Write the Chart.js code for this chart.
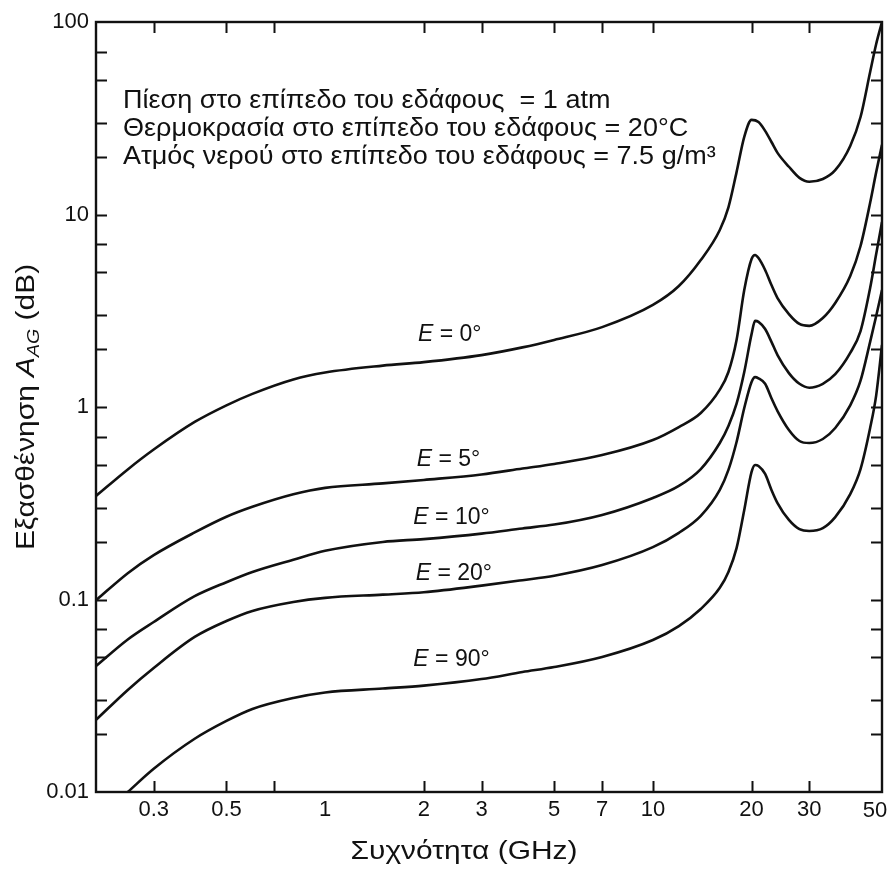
<!DOCTYPE html>
<html><head><meta charset="utf-8">
<script src="https://cdn.jsdelivr.net/npm/chart.js@4/dist/chart.umd.min.js"></script>
<style>html,body{margin:0;padding:0;background:#fff}</style>
</head><body>
<canvas id="c" width="890" height="869"></canvas>
<script>
// ---- data (frequency in GHz, attenuation in dB) ----
const freqE0 = [0.2, 0.25, 0.3, 0.4, 0.5, 0.6, 0.8, 1, 1.5, 2, 3, 4, 5, 7, 10, 12, 14, 16, 17, 18, 19, 20, 21, 22, 23, 24, 26, 28, 30, 33, 36, 40, 43, 46, 48, 50];
const attE0  = [0.345, 0.474, 0.601, 0.836, 1.02, 1.17, 1.39, 1.51, 1.64, 1.71, 1.86, 2.04, 2.23, 2.60, 3.39, 4.25, 5.80, 8.31, 10.9, 16.6, 25.3, 31.0, 30.2, 27.2, 23.8, 20.9, 17.7, 15.5, 14.8, 15.3, 17.0, 22.7, 32.1, 55.0, 76.9, 100];

const freqE5 = [0.2, 0.25, 0.3, 0.4, 0.5, 0.6, 0.8, 1, 1.5, 2, 3, 4, 5, 7, 10, 12, 14, 16, 17, 18, 19, 20, 20.5, 21, 22, 23, 24, 26, 28, 30, 33, 36, 40, 43, 46, 48, 50];
const attE5  = [0.099, 0.137, 0.170, 0.223, 0.269, 0.303, 0.352, 0.380, 0.401, 0.418, 0.446, 0.479, 0.506, 0.563, 0.674, 0.787, 0.931, 1.23, 1.52, 2.23, 4.05, 5.87, 6.16, 5.94, 5.15, 4.30, 3.68, 3.04, 2.70, 2.64, 2.90, 3.47, 4.79, 6.86, 11.5, 16.6, 23.0];

const freqE10 = [0.2, 0.25, 0.3, 0.4, 0.5, 0.6, 0.8, 1, 1.5, 2, 3, 4, 5, 7, 10, 12, 14, 16, 17, 18, 19, 20, 20.5, 21, 22, 23, 24, 26, 28, 30, 33, 36, 40, 43, 46, 48, 50];
const attE10  = [0.0451, 0.0620, 0.0764, 0.104, 0.123, 0.139, 0.161, 0.179, 0.199, 0.206, 0.220, 0.234, 0.245, 0.275, 0.337, 0.389, 0.476, 0.650, 0.797, 1.04, 1.52, 2.39, 2.80, 2.77, 2.54, 2.18, 1.86, 1.50, 1.32, 1.26, 1.32, 1.48, 1.91, 2.48, 4.15, 6.23, 9.14];

const freqE20 = [0.2, 0.25, 0.3, 0.4, 0.5, 0.6, 0.8, 1, 1.5, 2, 3, 4, 5, 7, 10, 12, 14, 16, 17, 18, 19, 20, 20.5, 21, 22, 23, 24, 26, 28, 30, 33, 36, 40, 43, 46, 48, 50];
const attE20  = [0.0237, 0.0339, 0.0441, 0.0639, 0.0773, 0.0872, 0.0971, 0.102, 0.106, 0.109, 0.118, 0.126, 0.133, 0.151, 0.187, 0.222, 0.272, 0.371, 0.471, 0.658, 0.988, 1.35, 1.43, 1.41, 1.32, 1.11, 0.953, 0.760, 0.666, 0.650, 0.682, 0.778, 1.02, 1.37, 2.18, 2.97, 4.05];

const freqE90 = [0.25, 0.3, 0.4, 0.5, 0.6, 0.8, 1, 1.5, 2, 3, 4, 5, 7, 10, 12, 14, 16, 17, 18, 19, 20, 20.5, 21, 22, 23, 24, 26, 28, 30, 33, 36, 40, 43, 46, 48, 50];
const attE90  = [0.01, 0.0132, 0.0189, 0.0234, 0.0270, 0.0308, 0.0329, 0.0345, 0.0357, 0.0386, 0.0420, 0.0446, 0.0503, 0.0616, 0.0728, 0.0893, 0.115, 0.139, 0.185, 0.292, 0.460, 0.500, 0.494, 0.449, 0.371, 0.317, 0.259, 0.232, 0.227, 0.235, 0.268, 0.353, 0.476, 0.778, 1.15, 2.10];

const seriesNames = ['E = 0°', 'E = 5°', 'E = 10°', 'E = 20°', 'E = 90°'];
const xTickLabels = [0.3, 0.5, 1, 2, 3, 5, 7, 10, 20, 30, 50];
const xTickMarks  = [0.3, 0.5, 0.7, 2, 3, 5, 7, 10, 20, 30];
const yTickLabels = [0.01, 0.1, 1, 10, 100];
const yTickMarks  = [0.02, 0.03, 0.05, 0.07, 0.1, 0.2, 0.3, 0.5, 0.7, 1, 2, 3, 5, 7, 10, 20, 30, 50, 70];
const noteLines = [
  'Πίεση στο επίπεδο του εδάφους  = 1 atm',
  'Θερμοκρασία στο επίπεδο του εδάφους = 20°C',
  'Ατμός νερού στο επίπεδο του εδάφους = 7.5 g/m³'
];
const xTitle = 'Συχνότητα (GHz)';
const yTitleMain = 'Εξασθένηση ';
const yTitleSym = 'A';
const yTitleSub = 'AG';
const yTitleUnit = ' (dB)';

// label anchors (value coordinates) for the elevation labels
const labelAnchors = [[2.40, 2.39], [2.38, 0.53], [2.43, 0.265], [2.47, 0.137], [2.43, 0.0485]];

const FONT = '"Liberation Sans", Arial, Helvetica, sans-serif';
const INK = '#111';

const allF = [freqE0, freqE5, freqE10, freqE20, freqE90];
const allA = [attE0, attE5, attE10, attE20, attE90];
const datasets = allF.map((fr, i) => ({
  label: seriesNames[i],
  data: fr.map((f, j) => ({x: f, y: allA[i][j]})),
  borderColor: INK,
  borderWidth: 2.6,
  pointRadius: 0,
  fill: false,
  cubicInterpolationMode: 'monotone'
}));

function stretchedText(ctx, text, x, y, sx) {
  ctx.save();
  ctx.translate(x, y);
  ctx.scale(sx, 1);
  ctx.fillText(text, 0, 0);
  ctx.restore();
}

const decor = {
  id: 'decor',
  afterDatasetsDraw(chart) {
    const {ctx, chartArea: a, scales: {x, y}} = chart;
    ctx.save();
    ctx.strokeStyle = INK;
    ctx.lineWidth = 2.4;
    ctx.strokeRect(a.left, a.top, a.right - a.left, a.bottom - a.top);
    ctx.lineWidth = 2;
    const L = 11;
    ctx.beginPath();
    xTickMarks.forEach(v => {
      const px = Math.round(x.getPixelForValue(v)) + 0.5;
      ctx.moveTo(px, a.bottom); ctx.lineTo(px, a.bottom - L);
      ctx.moveTo(px, a.top); ctx.lineTo(px, a.top + L);
    });
    yTickMarks.forEach(v => {
      const py = Math.round(y.getPixelForValue(v)) + 0.5;
      ctx.moveTo(a.left, py); ctx.lineTo(a.left + L, py);
      ctx.moveTo(a.right, py); ctx.lineTo(a.right - L, py);
    });
    ctx.stroke();

    ctx.fillStyle = INK;
    // last x tick label, kept inside the canvas like the original
    ctx.font = '22px ' + FONT;
    ctx.textAlign = 'center';
    ctx.textBaseline = 'middle';
    ctx.fillText(String(xTickLabels[xTickLabels.length - 1]), a.right - 7, a.bottom + 19);

    // notes
    ctx.font = '25px ' + FONT;
    ctx.textBaseline = 'alphabetic';
    ctx.textAlign = 'left';
    noteLines.forEach((t, i) => stretchedText(ctx, t, a.left + 27, a.top + 86 + i * 28, 1.08));

    // elevation labels
    labelAnchors.forEach((p, i) => {
      const cx = x.getPixelForValue(p[0]), cy = y.getPixelForValue(p[1]);
      const rest = seriesNames[i].slice(1);
      ctx.font = 'italic 23px ' + FONT;
      const w1 = ctx.measureText('E').width;
      ctx.font = '23px ' + FONT;
      const w2 = ctx.measureText(rest).width;
      const sx = cx - (w1 + w2) / 2;
      ctx.textBaseline = 'middle';
      ctx.textAlign = 'left';
      ctx.font = 'italic 23px ' + FONT;
      ctx.fillText('E', sx, cy);
      ctx.font = '23px ' + FONT;
      ctx.fillText(rest, sx + w1, cy);
    });

    // x title
    ctx.font = '26px ' + FONT;
    ctx.textAlign = 'center';
    ctx.textBaseline = 'middle';
    stretchedText(ctx, xTitle, (a.left + a.right) / 2 - 25, a.bottom + 60, 1.15);

    // y title (rotated, with subscript)
    ctx.save();
    ctx.translate(27, (a.top + a.bottom) / 2);
    ctx.rotate(-Math.PI / 2);
    ctx.scale(1.15, 1);
    const segs = [
      {t: yTitleMain, f: '26px ' + FONT, dy: 0},
      {t: yTitleSym, f: 'italic 26px ' + FONT, dy: 0},
      {t: yTitleSub, f: 'italic 17px ' + FONT, dy: 7},
      {t: yTitleUnit, f: '26px ' + FONT, dy: 0}
    ];
    let total = 0;
    segs.forEach(s => { ctx.font = s.f; s.w = ctx.measureText(s.t).width; total += s.w; });
    let xx = -total / 2;
    ctx.textAlign = 'left';
    ctx.textBaseline = 'middle';
    segs.forEach(s => { ctx.font = s.f; ctx.fillText(s.t, xx, s.dy); xx += s.w; });
    ctx.restore();
    ctx.restore();
  }
};

new Chart(document.getElementById('c'), {
  type: 'line',
  data: {datasets},
  options: {
    responsive: false,
    animation: false,
    layout: {padding: {top: 22, right: 8, left: 0, bottom: 0}},
    plugins: {legend: {display: false}, tooltip: {enabled: false}},
    scales: {
      x: {
        type: 'logarithmic', min: 0.2, max: 50,
        afterBuildTicks: s => { s.ticks = xTickLabels.map(v => ({value: v})); },
        afterFit: s => { s.height = 77; s.paddingRight = 0; s.paddingLeft = 0; },
        grid: {display: false, drawTicks: false},
        border: {display: false},
        ticks: {autoSkip: false, maxRotation: 0, padding: 5, color: INK,
                font: {family: FONT, size: 22},
                callback: (v, i) => (v === xTickLabels[xTickLabels.length - 1] ? '' : String(v))}
      },
      y: {
        type: 'logarithmic', min: 0.01, max: 100,
        afterBuildTicks: s => { s.ticks = yTickLabels.map(v => ({value: v})); },
        afterFit: s => { s.width = 96; s.paddingTop = 0; s.paddingBottom = 0; },
        grid: {display: false, drawTicks: false},
        border: {display: false},
        ticks: {autoSkip: false, padding: 7, color: INK,
                font: {family: FONT, size: 22}, callback: v => String(v)}
      }
    }
  },
  plugins: [decor]
});
</script>
</body></html>
